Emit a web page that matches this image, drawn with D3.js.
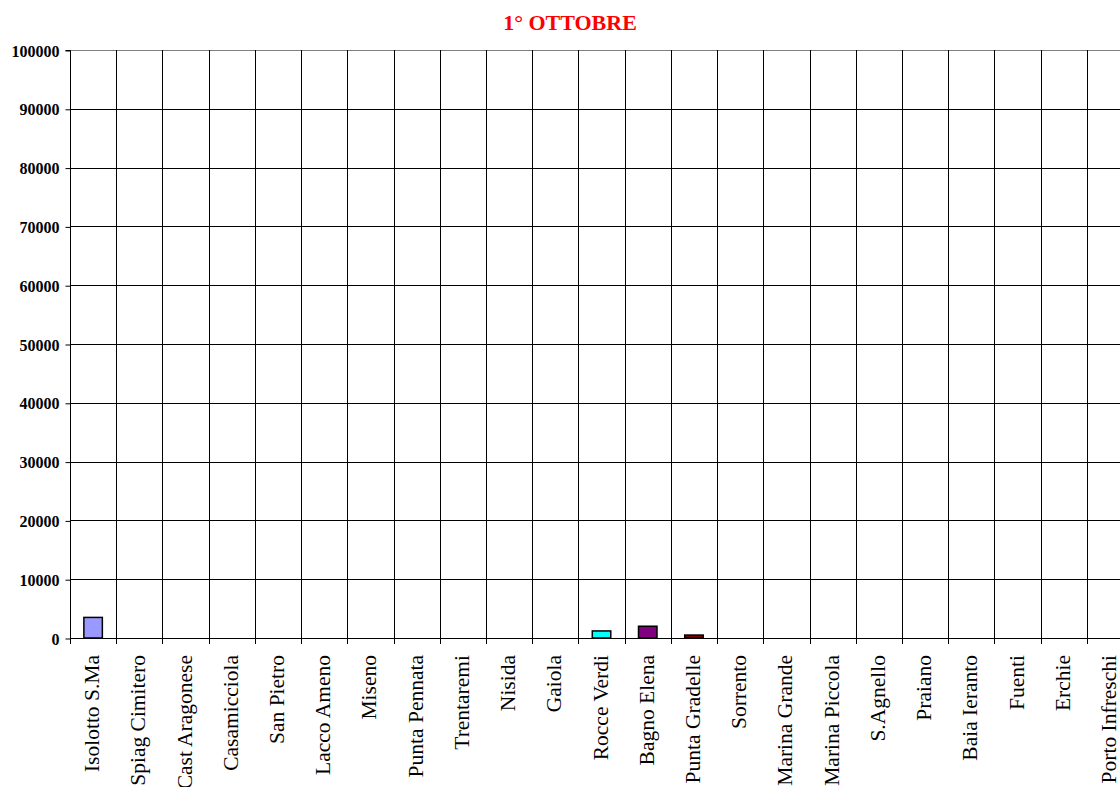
<!DOCTYPE html>
<html><head><meta charset="utf-8">
<script src="https://cdn.jsdelivr.net/npm/d3@7"></script>
<style>body{margin:0;background:#fff;overflow:hidden}svg{display:block}</style>
</head><body>
<svg id="c" width="1120" height="787"></svg>
<script>
const title = "1° OTTOBRE";
const categories = ["Isolotto S.Ma","Spiag Cimitero","Cast Aragonese","Casamicciola","San Pietro","Lacco Ameno","Miseno","Punta Pennata","Trentaremi","Nisida","Gaiola","Rocce Verdi","Bagno Elena","Punta Gradelle","Sorrento","Marina Grande","Marina Piccola","S.Agnello","Praiano","Baia Ieranto","Fuenti","Erchie","Porto Infreschi"];
const values = [3500,0,0,0,0,0,0,0,0,0,0,1200,2000,500,0,0,0,0,0,0,0,0,0];
const barColors = ["#9999FF","#993366","#FFFFCC","#CCFFFF","#660066","#FF8080","#0066CC","#CCCCFF","#000080","#FF00FF","#FFFF00","#00FFFF","#800080","#800000","#008080","#0000FF","#00CCFF","#CCFFFF","#CCFFCC","#FFFF99","#99CCFF","#FF99CC","#CC99FF"];
const yTicks = [0,10000,20000,30000,40000,50000,60000,70000,80000,90000,100000];

const svg = d3.select("#c");
const L = 70, T = 50, B = 638, R = 70 + 23*46.22;
const x = d3.scaleBand().domain(categories).range([L, R]).paddingInner(0).paddingOuter(0);
const y = d3.scaleLinear().domain([0,100000]).range([B, T]);
const bw = x.bandwidth();

svg.append("text").attr("x", 570).attr("y", 30).attr("text-anchor","middle")
  .attr("font-family","Liberation Serif, Times New Roman, serif").attr("font-weight","bold")
  .attr("font-size", 22).attr("fill","#FF0000").text(title);

const g = svg.append("g");
g.selectAll("line.h").data(yTicks.filter(d=>d>0)).enter().append("line")
  .attr("x1", L).attr("x2", R)
  .attr("y1", d=>Math.round(y(d))+0.5).attr("y2", d=>Math.round(y(d))+0.5)
  .attr("stroke", d=> d===100000 ? "#808080" : "#000").attr("stroke-width",1);
const bounds = categories.slice(1).map(c=>x(c));
g.selectAll("line.v").data(bounds).enter().append("line")
  .attr("x1", d=>Math.round(d)+0.5).attr("x2", d=>Math.round(d)+0.5)
  .attr("y1", T).attr("y2", B + 6)
  .attr("stroke","#000").attr("stroke-width",1);

g.selectAll("rect.bar").data(categories).enter().append("rect")
  .attr("x", (c)=>x(c) + bw*0.3)
  .attr("width", bw*0.4)
  .attr("y", (c,i)=>y(values[i]))
  .attr("height", (c,i)=>B - y(values[i]))
  .attr("fill", (c,i)=>barColors[i])
  .attr("stroke","#000").attr("stroke-width",1.5)
  .style("display",(c,i)=>values[i]>0?null:"none");

const yAxis = d3.axisLeft(y).tickValues(yTicks).tickSize(5).tickFormat(d3.format("d"));
const ya = svg.append("g").attr("transform",`translate(${L+0.5},0.5)`).call(yAxis);
ya.select(".domain").attr("stroke","#000").attr("d",`M-5,${T}H0V${B}`);
ya.selectAll(".tick line").attr("stroke","#000");
ya.selectAll(".tick text").attr("font-family","Liberation Serif, Times New Roman, serif")
  .attr("font-weight","bold").attr("font-size",16).attr("fill","#000").attr("x",-11).attr("dy","0.35em");

svg.append("line").attr("x1",L).attr("x2",R).attr("y1",B+0.5).attr("y2",B+0.5).attr("stroke","#000");
svg.append("line").attr("x1",L+0.5).attr("x2",L+0.5).attr("y1",B).attr("y2",B+6).attr("stroke","#000");

svg.selectAll("text.xl").data(categories).enter().append("text")
  .attr("transform", c=>`translate(${x(c)+bw/2},655) rotate(-90)`)
  .attr("text-anchor","end").attr("dy","0.28em")
  .attr("font-family","Liberation Serif, Times New Roman, serif")
  .attr("font-size",21.5).attr("fill","#000").text(c=>c);
</script>
</body></html>
